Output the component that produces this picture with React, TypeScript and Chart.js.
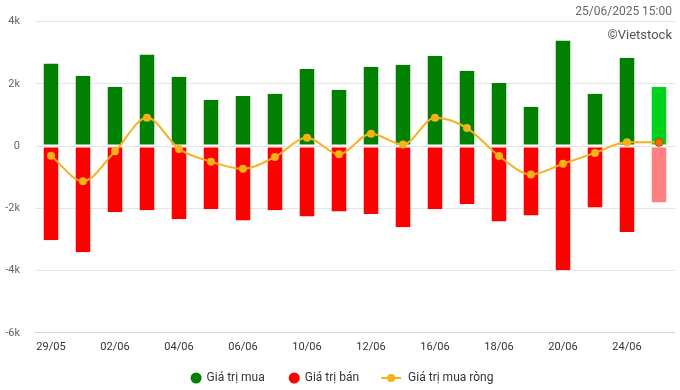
import React, { useEffect, useRef } from "react";
import { Chart, registerables } from "chart.js";

Chart.register(...registerables);

const categories = [
  "29/05", "30/05", "02/06", "03/06", "04/06", "05/06", "06/06", "09/06", "10/06", "11/06",
  "12/06", "13/06", "16/06", "17/06", "18/06", "19/06", "20/06", "23/06", "24/06", "25/06",
];
const buyValues = [
  2650, 2260, 1900, 2940, 2230, 1480, 1610, 1680, 2480, 1810,
  2550, 2610, 2900, 2420, 2030, 1260, 3390, 1680, 2840, 1900,
];
const sellValues = [
  -3030, -3410, -2130, -2060, -2350, -2030, -2390, -2060, -2260, -2100,
  -2180, -2610, -2030, -1860, -2420, -2230, -3990, -1970, -2760, -1810,
];
const netValues = [
  -310, -1130, -170, 910, -90, -500, -730, -350, 270, -260,
  400, 50, 910, 580, -320, -910, -570, -220, 120, 120,
];
const yTicks = [4000, 2000, 0, -2000, -4000, -6000];
const legendLabels = ["Giá trị mua", "Giá trị bán", "Giá trị mua ròng"];

const GREEN = "#008000";
const GREEN_LAST = "#00d21e";
const RED = "#ff0000";
const RED_LAST = "#ff8080";
const LINE = "#f9b11b";
const LAST_POINT = "#ff6a00";

const extras = {
  id: "extras",
  afterDraw(chart: any) {
    const ctx = chart.ctx;
    ctx.save();
    // corner texts
    ctx.textAlign = "right";
    ctx.textBaseline = "middle";
    ctx.fillStyle = "#666666";
    ctx.font = "12px Roboto";
    ctx.fillText("25/06/2025 15:00", 672, 12);
    ctx.font = "13px Roboto";
    ctx.fillStyle = "#555555";
    ctx.fillText("\u00a9Vietstock", 672, 36);

    // legend
    ctx.font = "12px Roboto";
    ctx.textAlign = "left";
    const colors = [GREEN, RED, LINE];
    const iconW = [11, 11, 20];
    const gapIconText = [5, 5, 7];
    const gapItems = [24, 22];
    const widths = legendLabels.map((t, i) => iconW[i] + gapIconText[i] + ctx.measureText(t).width);
    const total = widths.reduce((a, b) => a + b, 0) + gapItems[0] + gapItems[1];
    let x = 342 - total / 2;
    const y = 378;
    legendLabels.forEach((t, i) => {
      ctx.fillStyle = colors[i];
      ctx.strokeStyle = colors[i];
      if (i < 2) {
        ctx.beginPath();
        ctx.arc(x + 5.5, y, 5.5, 0, Math.PI * 2);
        ctx.fill();
      } else {
        ctx.lineWidth = 2;
        ctx.beginPath();
        ctx.moveTo(x, y);
        ctx.lineTo(x + 20, y);
        ctx.stroke();
        ctx.beginPath();
        ctx.arc(x + 10, y, 4, 0, Math.PI * 2);
        ctx.fill();
      }
      ctx.fillStyle = "#333333";
      ctx.fillText(t, x + iconW[i] + gapIconText[i], y);
      x += widths[i] + (gapItems[i] || 0);
    });
    ctx.restore();
  },
};

export default function App() {
  const ref = useRef<HTMLCanvasElement | null>(null);
  useEffect(() => {
    if (!ref.current) return;
    const n = categories.length;
    const chart = new Chart(ref.current, {
      data: {
        labels: categories,
        datasets: [
          {
            type: "line" as const,
            label: legendLabels[2],
            data: netValues,
            borderColor: LINE,
            backgroundColor: LINE,
            borderWidth: 2,
            cubicInterpolationMode: "monotone" as const,
            pointRadius: 4,
            pointHoverRadius: 4,
            pointBackgroundColor: netValues.map((_, i) => (i === n - 1 ? LAST_POINT : LINE)),
            pointBorderColor: netValues.map((_, i) => (i === n - 1 ? "#b04a00" : LINE)),
            pointBorderWidth: netValues.map((_, i) => (i === n - 1 ? 1 : 0)),
            order: 0,
          },
          {
            type: "bar" as const,
            label: legendLabels[0],
            data: buyValues,
            backgroundColor: buyValues.map((_, i) => (i === n - 1 ? GREEN_LAST : GREEN)),
            borderColor: "#ffffff",
            borderWidth: { top: 0, left: 0, right: 0, bottom: 1 },
            borderSkipped: false,
            stack: "s",
            order: 1,
          },
          {
            type: "bar" as const,
            label: legendLabels[1],
            data: sellValues,
            backgroundColor: sellValues.map((_, i) => (i === n - 1 ? RED_LAST : RED)),
            borderColor: "#ffffff",
            borderWidth: { top: 1, left: 0, right: 0, bottom: 0 },
            borderSkipped: false,
            stack: "s",
            order: 1,
          },
        ],
      },
      options: {
        animation: false,
        responsive: true,
        maintainAspectRatio: false,
        layout: { padding: { left: 0, right: 5, top: 21, bottom: 28 } },
        datasets: { bar: { categoryPercentage: 1, barPercentage: 0.47 } },
        scales: {
          x: {
            stacked: true,
            grid: { display: false, drawTicks: false },
            border: { display: false },
            ticks: {
              color: "#333333",
              font: { family: "Roboto", size: 11 },
              maxRotation: 0,
              autoSkip: false,
              padding: 8,
              callback: (_v: any, i: number) => (i % 2 === 0 ? categories[i] : ""),
            },
          },
          y: {
            stacked: true,
            min: -6000,
            max: 4000,
            afterBuildTicks: (axis: any) => {
              axis.ticks = yTicks.map((v) => ({ value: v }));
            },
            afterFit: (axis: any) => {
              axis.width = 35;
            },
            grid: {
              color: (c: any) => (c.tick && c.tick.value === -6000 ? "#ccd6eb" : "#e6e6e6"),
              drawTicks: false,
            },
            border: { display: false },
            ticks: {
              color: "#666666",
              font: { family: "Roboto", size: 11 },
              padding: 15,
              callback: (v: any) => (v === 0 ? "0" : `${Number(v) / 1000}k`),
            },
          },
        },
        plugins: {
          tooltip: { enabled: false },
          legend: { display: false },
        },
      } as any,
      plugins: [extras],
    });
    return () => chart.destroy();
  }, []);

  return (
    <div style={{ position: "fixed", left: 0, top: 0, width: 680, height: 390, background: "#fff" }}>
      <canvas ref={ref} />
    </div>
  );
}
